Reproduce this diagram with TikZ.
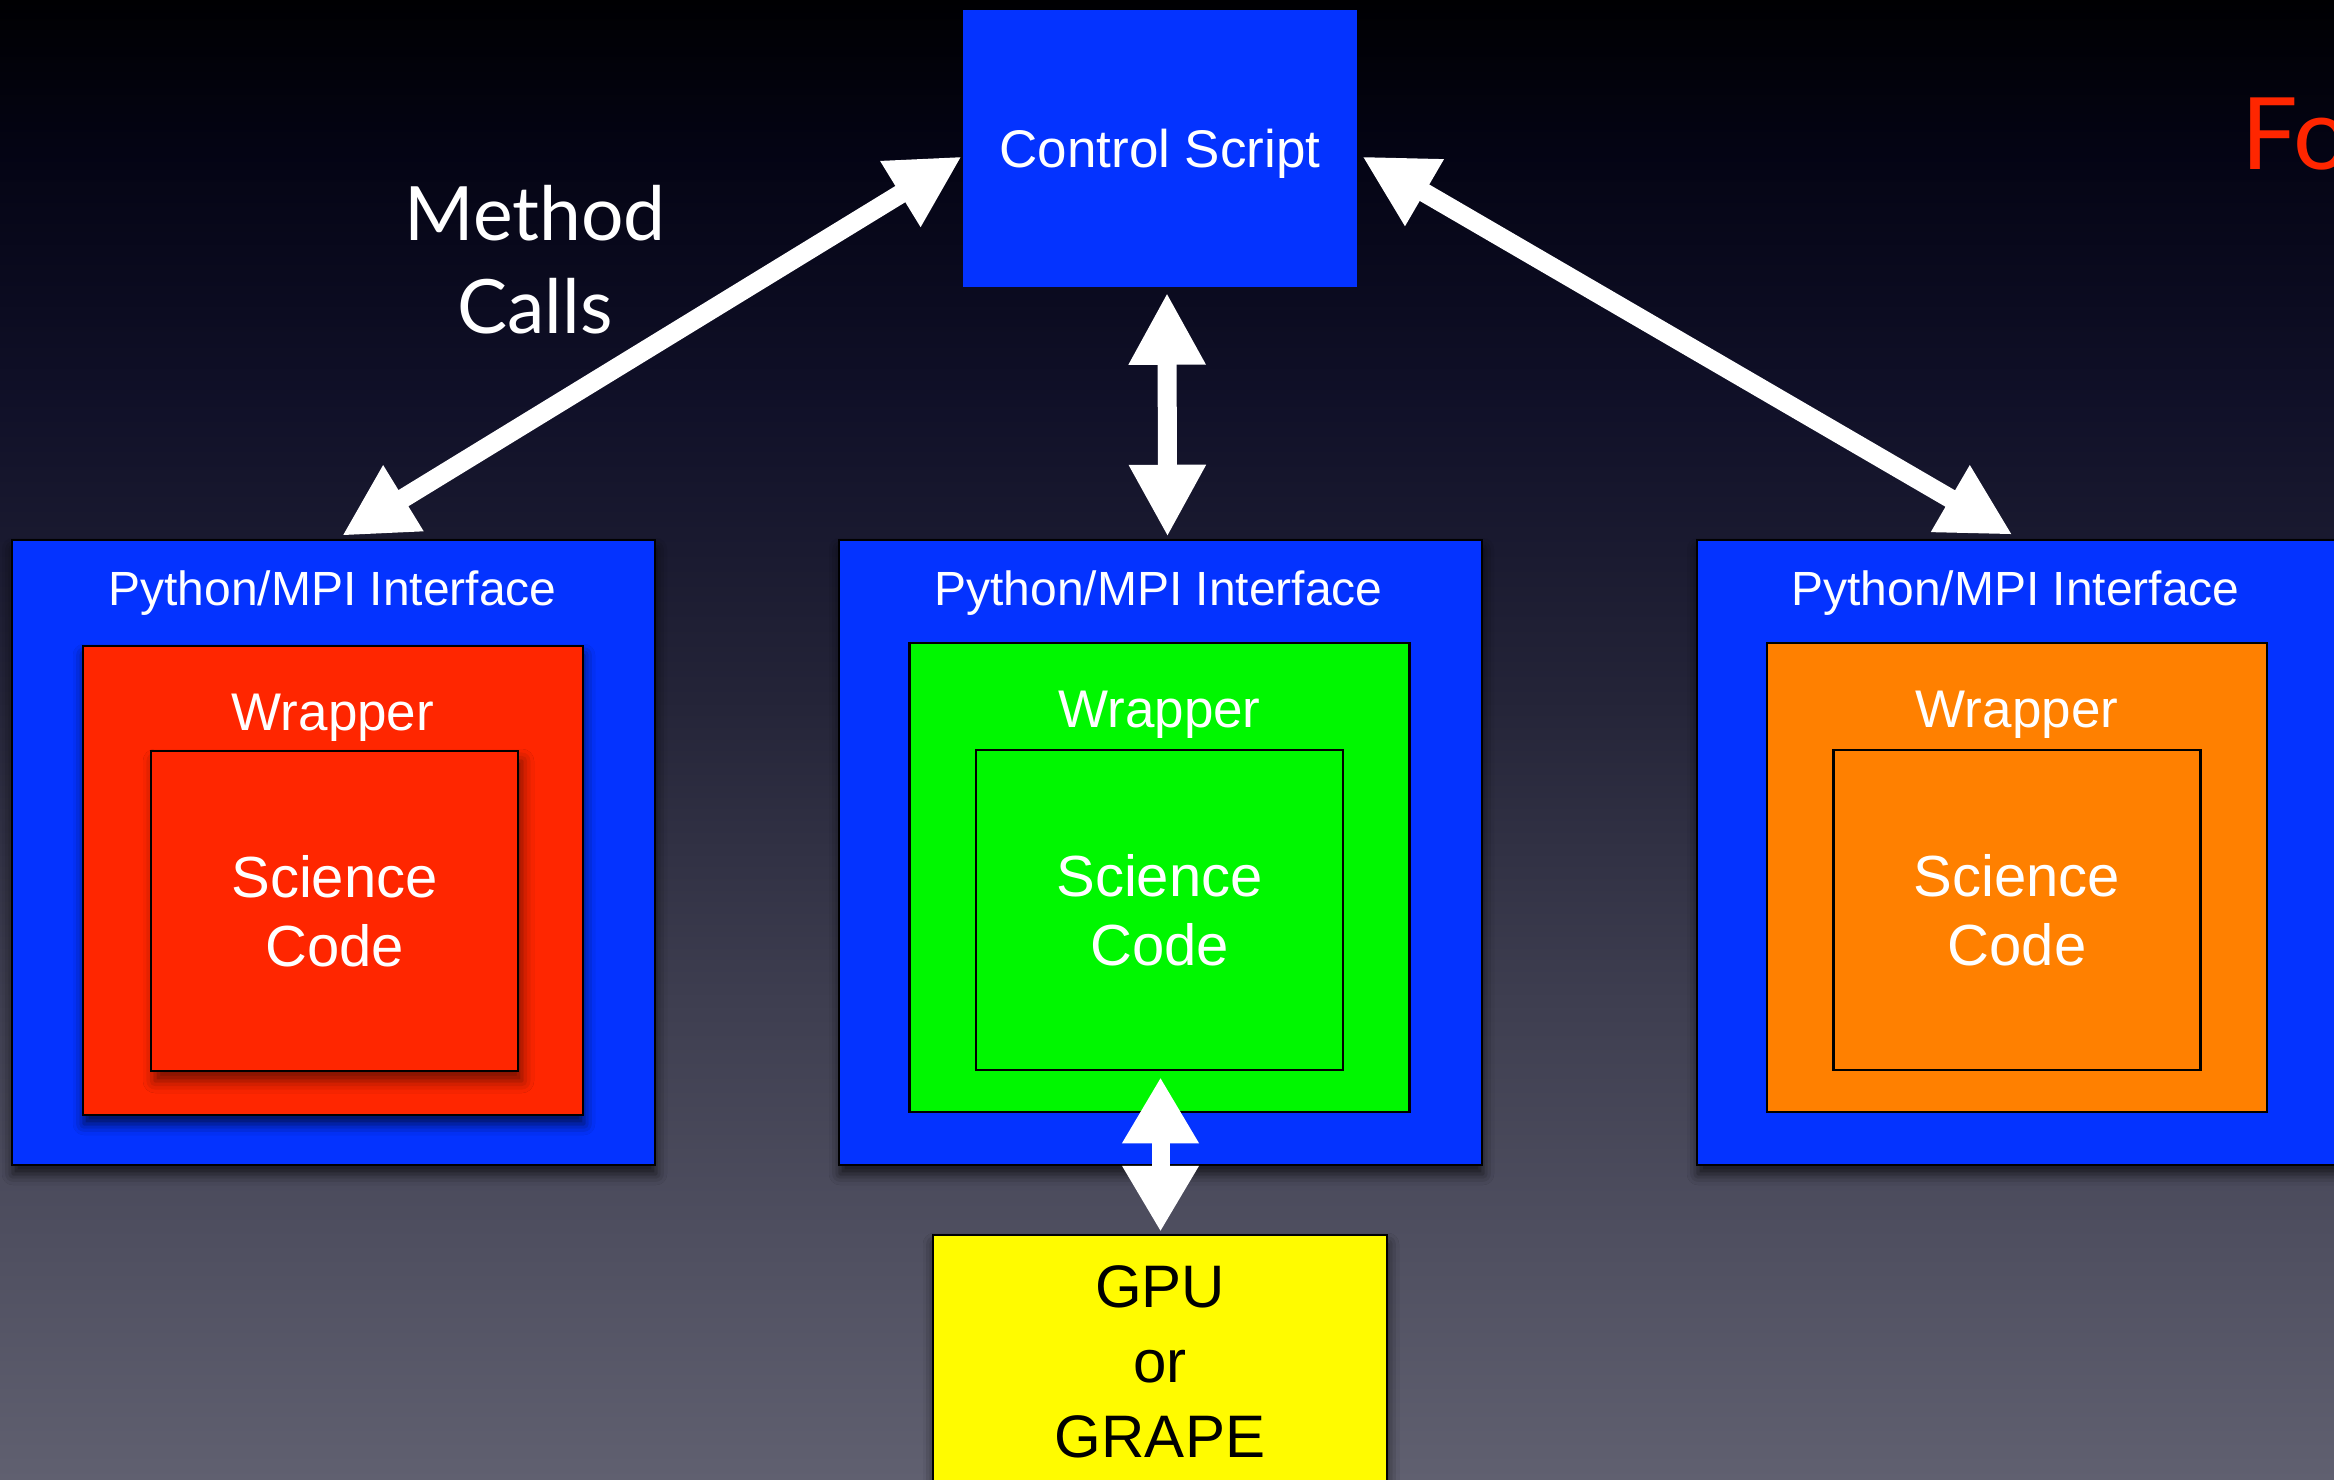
\documentclass[tikz,border=0pt]{standalone}
\usepackage{fontspec}
\setmainfont{Liberation Sans}
\newfontfamily\humanist{Lato}
\usetikzlibrary{arrows.meta,calc,shadows.blur}

% palette
\definecolor{kblue}{RGB}{4,51,255}
\definecolor{kred}{RGB}{255,38,0}
\definecolor{kgreen}{RGB}{0,247,0}
\definecolor{korange}{RGB}{255,128,0}
\definecolor{kyellow}{RGB}{255,251,0}
\definecolor{titlered}{RGB}{255,38,0}
% backdrop, from top to bottom
\definecolor{bgA}{RGB}{0,0,2}
\definecolor{bgB}{RGB}{4,4,20}
\definecolor{bgC}{RGB}{16,16,40}
\definecolor{bgD}{RGB}{36,36,56}
\definecolor{bgE}{RGB}{62,62,80}
\definecolor{bgF}{RGB}{96,96,112}

\pgfdeclareverticalshading{slidebg}{100bp}{%
  color(0bp)=(bgF); color(25bp)=(bgF); color(41.2bp)=(bgE);
  color(51.4bp)=(bgD); color(61.5bp)=(bgC); color(69.9bp)=(bgB);
  color(75bp)=(bgA); color(100bp)=(bgA)}

\begin{document}
\begin{tikzpicture}[x=1pt,y=-1pt,
  box/.style={rectangle, draw=black, line width=2.5pt, inner sep=0pt},
  iface/.style={box, fill=kblue, minimum width=643pt, minimum height=625pt},
  wrap/.style={box, minimum width=500pt, minimum height=469pt},
  sci/.style={box, minimum width=367pt, minimum height=320pt, text=white,
    align=center, font=\fontsize{58}{69}\selectfont},
  ifacetext/.style={text=white, inner sep=0pt, anchor=base,
    font=\fontsize{48}{58}\selectfont},
  wraptext/.style={text=white, inner sep=0pt, anchor=base,
    font=\fontsize{53}{64}\selectfont},
  dropshadow/.style={blur shadow={shadow xshift=1pt, shadow yshift=-9pt,
    shadow blur radius=11pt, shadow opacity=70}},
  innershadow/.style={blur shadow={shadow xshift=4pt, shadow yshift=-10pt,
    shadow blur radius=12pt, shadow opacity=55}},
  fatarrow/.style={draw=white, line width=19pt,
    {Triangle[length=72pt,width=72pt]}-{Triangle[length=72pt,width=72pt]}},
  shortarrow/.style={draw=white, line width=18pt,
    {Triangle[length=66pt,width=72pt]}-{Triangle[length=66pt,width=72pt]}}]

\useasboundingbox (0,0) rectangle (2334,1480);
\clip (0,0) rectangle (2334,1480);
\fill[shading=slidebg] (0,0) rectangle (2334,1480);

% control script
\node[box, draw=none, fill=kblue, minimum width=394pt, minimum height=276pt,
  text=white, font=\fontsize{53}{64}\selectfont, text height=38pt, text depth=1pt]
  (ctrl) at (1160,148.5) {Control Script};

% interface boxes
\node[iface, dropshadow] (py1) at (333.5,852.5) {};
\node[iface, dropshadow] (py2) at (1160.5,852.5) {};
\node[iface, dropshadow] (py3) at (2018.5,852.5) {};

% wrappers
\node[wrap, fill=kred, dropshadow] (w1) at (333,880.5) {};
\node[wrap, fill=kgreen] (w2) at (1159.5,877.5) {};
\node[wrap, fill=korange] (w3) at (2017,877.5) {};

% science codes
\node[sci, fill=kred, innershadow] (s1) at (334.5,911) {Science\\Code};
\node[sci, fill=kgreen] (s2) at (1159.5,910) {Science\\Code};
\node[sci, fill=korange] (s3) at (2017,910) {Science\\Code};

% labels
\node[ifacetext] (p1) at ($(py1.north)+(-1,67)$) {Python/MPI Interface};
\node[ifacetext] (p2) at ($(py2.north)+(-2,67)$) {Python/MPI Interface};
\node[ifacetext] (p3) at ($(py3.north)+(-3,67)$) {Python/MPI Interface};
\node[wraptext] (l1) at ($(w1.north)+(0,86)$) {Wrapper};
\node[wraptext] (l2) at ($(w2.north)+(0,86)$) {Wrapper};
\node[wraptext] (l3) at ($(w3.north)+(0,86)$) {Wrapper};

% accelerator
\node[box, fill=kyellow, minimum width=454pt, minimum height=254pt,
  align=center, font=\fontsize{60}{75}\selectfont, dropshadow]
  (gpu) at (1160,1362) {GPU\\or\\GRAPE};

% annotations
\node[text=white, align=center, inner sep=0pt,
  font=\humanist\fontsize{75}{93}\selectfont] (mc) at (535,260) {Method\\Calls};
\node[text=titlered, anchor=base west, inner sep=0pt,
  font=\humanist\fontsize{100}{120}\selectfont] (fo) at (2241,169) {Fo};

% connectors
\draw[fatarrow] ($(ctrl.west)+(0,8)$) -- ($(py1.north)+(8.5,-3)$);
\draw[fatarrow] ($(ctrl.south)+(7,5)$) -- ($(py2.north)+(7,-2)$);
\draw[fatarrow] ($(ctrl.east)+(4,8)$) -- ($(py3.north)+(-6,-4)$);
\draw[shortarrow] ($(s2.south)+(1,6)$) -- ($(gpu.north)+(0.5,-2)$);
\end{tikzpicture}
\end{document}
